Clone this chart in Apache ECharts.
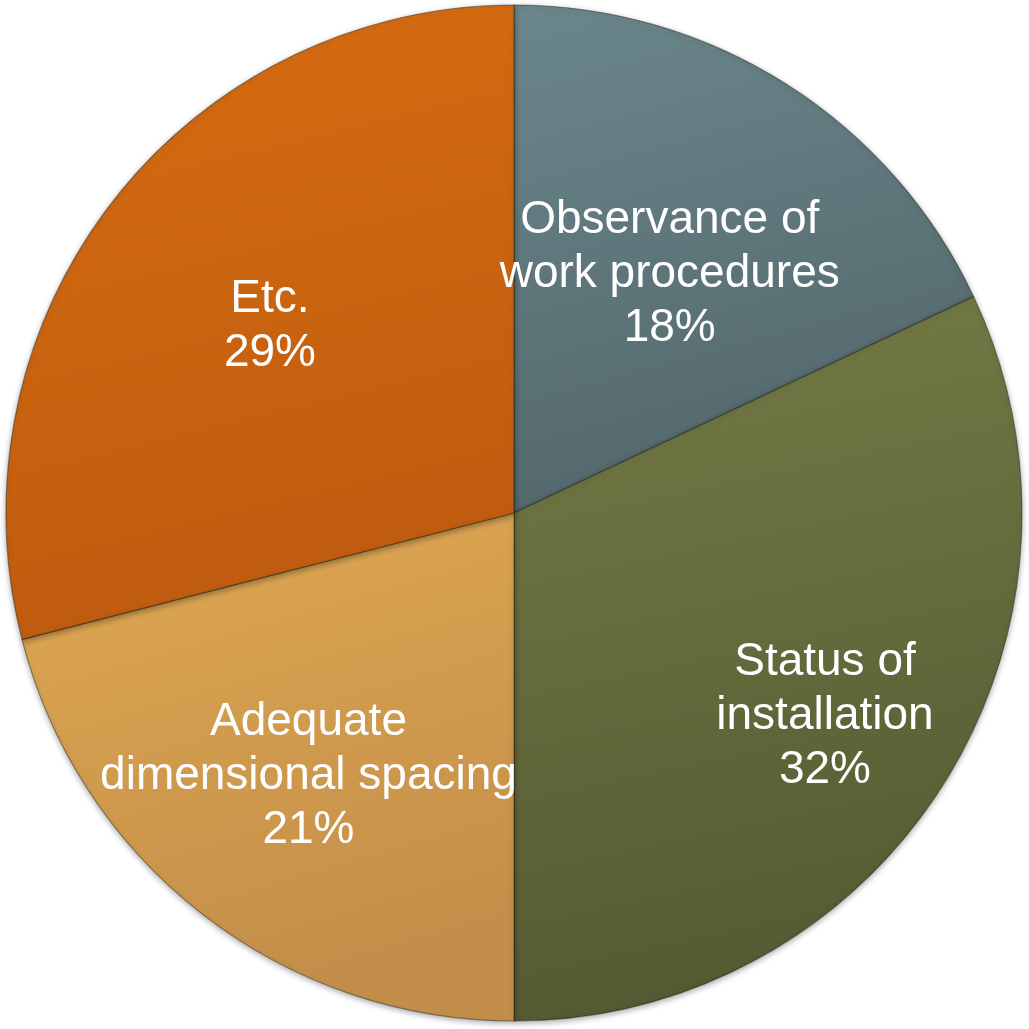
<!DOCTYPE html>
<html>
<head>
<meta charset="utf-8">
<script src="https://cdn.jsdelivr.net/npm/echarts@6/dist/echarts.min.js"></script>
<style>
html,body{margin:0;padding:0;background:#fff;}
#main{width:1029px;height:1029px;}
</style>
</head>
<body>
<div id="main"></div>
<script>
var categories = ['Observance of\nwork procedures', 'Status of\ninstallation', 'Adequate\ndimensional spacing', 'Etc.'];
var values = [18, 32, 21, 29];

var sliceColors = [
  ['#6b878c', '#53676b'],
  ['#747c46', '#555932'],
  ['#e0a953', '#c38e49'],
  ['#d76d11', '#bf5b0f']
];
var labelOffsets = [[18, -22], [94, 66], [-48, 60], [-41, -29]];

var data = categories.map(function (c, i) {
  return {
    name: c,
    value: values[i],
    itemStyle: {
      color: {
        type: 'linear', x: 0, y: 0, x2: 0.3, y2: 1,
        colorStops: [
          { offset: 0, color: sliceColors[i][0] },
          { offset: 1, color: sliceColors[i][1] }
        ]
      }
    },
    label: { offset: labelOffsets[i] }
  };
});

var chart = echarts.init(document.getElementById('main'));
chart.setOption({
  animation: false,
  series: [{
    type: 'pie',
    center: [514, 513],
    radius: [0, 508],
    startAngle: 90,
    clockwise: true,
    avoidLabelOverlap: false,
    data: data,
    itemStyle: {
      borderColor: 'rgba(30,30,20,0.45)',
      borderWidth: 1.2,
      shadowBlur: 6,
      shadowOffsetY: 2,
      shadowColor: 'rgba(0,0,0,0.35)'
    },
    label: {
      show: true,
      position: 'inside',
      formatter: function (p) { return p.name + '\n' + Math.round(p.percent) + '%'; },
      color: '#ffffff',
      fontFamily: 'Liberation Sans, Arial, Helvetica, sans-serif',
      fontSize: 46,
      lineHeight: 54,
      align: 'center'
    },
    labelLine: { show: false },
    emphasis: { disabled: true }
  }]
});
</script>
</body>
</html>
